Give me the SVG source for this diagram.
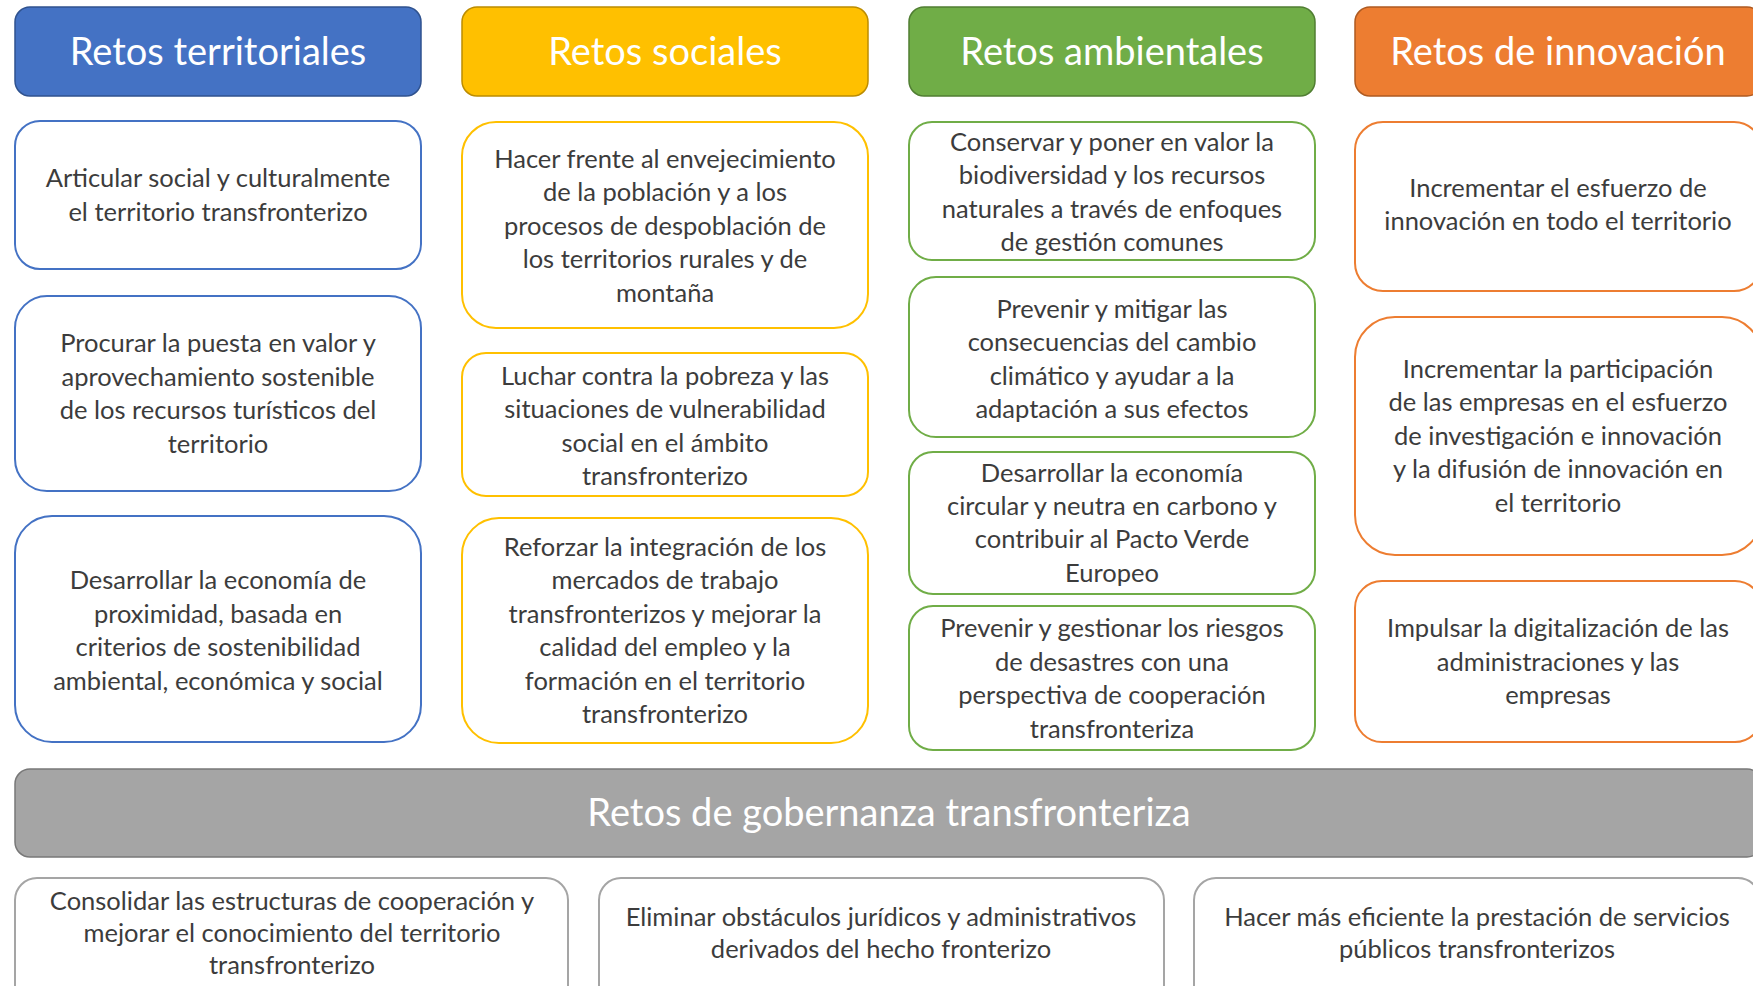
<svg xmlns="http://www.w3.org/2000/svg" width="1753" height="986" viewBox="0 0 1753 986">
<style>
text{font-family:Lato,"Liberation Sans",sans-serif;text-anchor:middle}
.h{fill:#fff;font-size:38px}
.t{fill:#3c3c3c;font-size:25.5px}
.card{fill:#fff;stroke-width:2}
.hd{stroke-width:1.5}
.blue{stroke:#4472C4}.yel{stroke:#FFC000}.grn{stroke:#70AD47}.org{stroke:#ED7D31}.gry{stroke:#A5A5A5}
</style>
<rect width="1753" height="986" fill="#fff"/>
<g id="h-territoriales"><rect class="hd" x="15" y="7" width="406" height="89" rx="15" fill="#4472C4" stroke="#2F528F"/><text class="h" x="218" y="65">Retos territoriales</text></g>
<g id="h-sociales"><rect class="hd" x="462" y="7" width="406" height="89" rx="15" fill="#FFC000" stroke="#BC8C00"/><text class="h" x="665" y="65">Retos sociales</text></g>
<g id="h-ambientales"><rect class="hd" x="909" y="7" width="406" height="89" rx="15" fill="#70AD47" stroke="#507E32"/><text class="h" x="1112" y="65">Retos ambientales</text></g>
<g id="h-innovacion"><rect class="hd" x="1355" y="7" width="407" height="89" rx="15" fill="#ED7D31" stroke="#AE5A21"/><text class="h" x="1558" y="65">Retos de innovación</text></g>

<g id="t1"><rect class="card blue" x="15" y="121" width="406" height="148" rx="25"/><text class="t" x="218"><tspan x="218" y="187">Articular social y culturalmente</tspan><tspan x="218" y="221">el territorio transfronterizo</tspan></text></g>
<g id="t2"><rect class="card blue" x="15" y="296" width="406" height="195" rx="32"/><text class="t"><tspan x="218" y="352">Procurar la puesta en valor y</tspan><tspan x="218" y="386">aprovechamiento sostenible</tspan><tspan x="218" y="419">de los recursos turísticos del</tspan><tspan x="218" y="453">territorio</tspan></text></g>
<g id="t3"><rect class="card blue" x="15" y="516" width="406" height="226" rx="37"/><text class="t"><tspan x="218" y="589">Desarrollar la economía de</tspan><tspan x="218" y="623">proximidad, basada en</tspan><tspan x="218" y="656">criterios de sostenibilidad</tspan><tspan x="218" y="690">ambiental, económica y social</tspan></text></g>

<g id="s1"><rect class="card yel" x="462" y="122" width="406" height="206" rx="34"/><text class="t"><tspan x="665" y="168">Hacer frente al envejecimiento</tspan><tspan x="665" y="201">de la población y a los</tspan><tspan x="665" y="235">procesos de despoblación de</tspan><tspan x="665" y="268">los territorios rurales y de</tspan><tspan x="665" y="302">montaña</tspan></text></g>
<g id="s2"><rect class="card yel" x="462" y="353" width="406" height="143" rx="24"/><text class="t"><tspan x="665" y="385">Luchar contra la pobreza y las</tspan><tspan x="665" y="418">situaciones de vulnerabilidad</tspan><tspan x="665" y="452">social en el ámbito</tspan><tspan x="665" y="485">transfronterizo</tspan></text></g>
<g id="s3"><rect class="card yel" x="462" y="518" width="406" height="225" rx="37"/><text class="t"><tspan x="665" y="556">Reforzar la integración de los</tspan><tspan x="665" y="589">mercados de trabajo</tspan><tspan x="665" y="623">transfronterizos y mejorar la</tspan><tspan x="665" y="656">calidad del empleo y la</tspan><tspan x="665" y="690">formación en el territorio</tspan><tspan x="665" y="723">transfronterizo</tspan></text></g>

<g id="a1"><rect class="card grn" x="909" y="122" width="406" height="138" rx="23"/><text class="t"><tspan x="1112" y="151">Conservar y poner en valor la</tspan><tspan x="1112" y="184">biodiversidad y los recursos</tspan><tspan x="1112" y="218">naturales a través de enfoques</tspan><tspan x="1112" y="251">de gestión comunes</tspan></text></g>
<g id="a2"><rect class="card grn" x="909" y="277" width="406" height="160" rx="27"/><text class="t"><tspan x="1112" y="318">Prevenir y mitigar las</tspan><tspan x="1112" y="351">consecuencias del cambio</tspan><tspan x="1112" y="385">climático y ayudar a la</tspan><tspan x="1112" y="418">adaptación a sus efectos</tspan></text></g>
<g id="a3"><rect class="card grn" x="909" y="452" width="406" height="142" rx="24"/><text class="t"><tspan x="1112" y="482">Desarrollar la economía</tspan><tspan x="1112" y="515">circular y neutra en carbono y</tspan><tspan x="1112" y="548">contribuir al Pacto Verde</tspan><tspan x="1112" y="582">Europeo</tspan></text></g>
<g id="a4"><rect class="card grn" x="909" y="606" width="406" height="144" rx="24"/><text class="t"><tspan x="1112" y="637">Prevenir y gestionar los riesgos</tspan><tspan x="1112" y="671">de desastres con una</tspan><tspan x="1112" y="704">perspectiva de cooperación</tspan><tspan x="1112" y="738">transfronteriza</tspan></text></g>

<g id="i1"><rect class="card org" x="1355" y="122" width="407" height="169" rx="28"/><text class="t"><tspan x="1558" y="197">Incrementar el esfuerzo de</tspan><tspan x="1558" y="230">innovación en todo el territorio</tspan></text></g>
<g id="i2"><rect class="card org" x="1355" y="317" width="407" height="238" rx="40"/><text class="t"><tspan x="1558" y="378">Incrementar la participación</tspan><tspan x="1558" y="411">de las empresas en el esfuerzo</tspan><tspan x="1558" y="445">de investigación e innovación</tspan><tspan x="1558" y="478">y la difusión de innovación en</tspan><tspan x="1558" y="512">el territorio</tspan></text></g>
<g id="i3"><rect class="card org" x="1355" y="581" width="407" height="161" rx="27"/><text class="t"><tspan x="1558" y="637">Impulsar la digitalización de las</tspan><tspan x="1558" y="671">administraciones y las</tspan><tspan x="1558" y="704">empresas</tspan></text></g>

<g id="h-gobernanza"><rect class="hd" x="15" y="769" width="1747" height="88" rx="15" fill="#A5A5A5" stroke="#787878"/><text class="h" x="889" y="826">Retos de gobernanza transfronteriza</text></g>

<g id="g1"><rect class="card gry" x="15" y="878" width="553" height="130" rx="22"/><text class="t"><tspan x="292" y="910">Consolidar las estructuras de cooperación y</tspan><tspan x="292" y="942">mejorar el conocimiento del territorio</tspan><tspan x="292" y="974">transfronterizo</tspan></text></g>
<g id="g2"><rect class="card gry" x="599" y="878" width="565" height="130" rx="22"/><text class="t"><tspan x="881" y="926">Eliminar obstáculos jurídicos y administrativos</tspan><tspan x="881" y="958">derivados del hecho fronterizo</tspan></text></g>
<g id="g3"><rect class="card gry" x="1194" y="878" width="566" height="130" rx="22"/><text class="t"><tspan x="1477" y="926">Hacer más eficiente la prestación de servicios</tspan><tspan x="1477" y="958">públicos transfronterizos</tspan></text></g>
<g id="connectors"/>
</svg>
